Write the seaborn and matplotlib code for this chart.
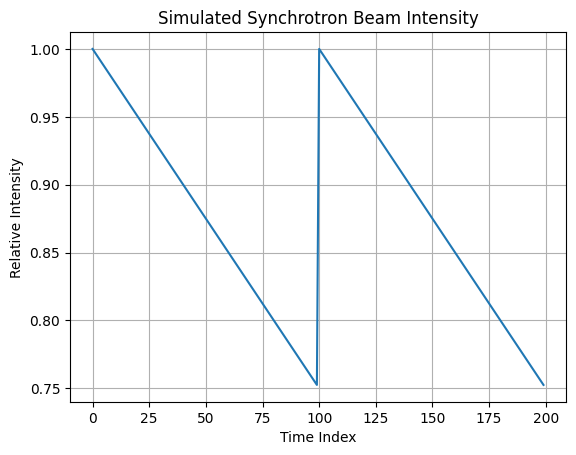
import matplotlib
matplotlib.use("Agg")
import matplotlib.pyplot as plt
import seaborn as sns
import pandas as pd

# Vertices of the sawtooth
time_index = [0, 99, 100, 199]
intensity = [1.0, 0.7525, 1.0, 0.7525]

df = pd.DataFrame({"Time Index": time_index, "Relative Intensity": intensity})

fig, ax = plt.subplots(figsize=(6.4, 4.8), dpi=100)
sns.lineplot(data=df, x="Time Index", y="Relative Intensity", ax=ax,
             color="#1f77b4", sort=False, estimator=None)
ax.set_title("Simulated Synchrotron Beam Intensity")
ax.set_xlabel("Time Index")
ax.set_ylabel("Relative Intensity")
ax.grid(True)
fig.savefig("out.png", dpi=100, bbox_inches="tight")
